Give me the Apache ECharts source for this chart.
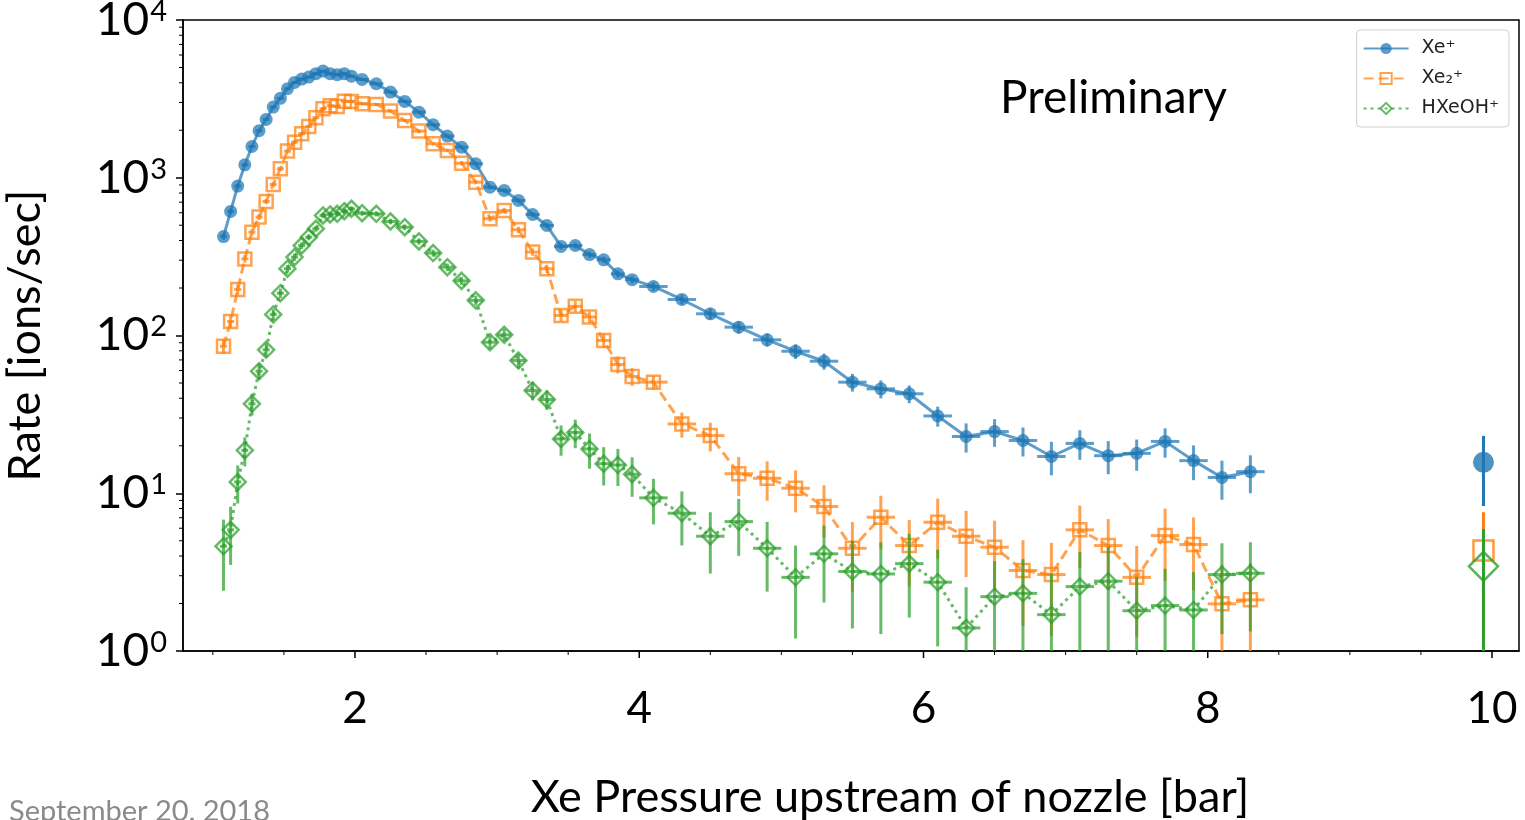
<!DOCTYPE html>
<html>
<head>
<meta charset="utf-8">
<title>Xe ion rates vs pressure</title>
<script src="https://cdn.jsdelivr.net/npm/echarts@6/dist/echarts.min.js"></script>
<style>
html, body { margin: 0; padding: 0; background: #fff; }
#chart { width: 1525px; height: 820px; }
</style>
</head>
<body>
<div id="chart"></div>
<script>
// pressure bins (bar) and half bin widths (horizontal error)
var pressure = [1.075, 1.125, 1.175, 1.225, 1.275, 1.325, 1.375, 1.425, 1.475, 1.525,
  1.575, 1.625, 1.675, 1.725, 1.775, 1.825, 1.875, 1.925, 1.975,
  2.05, 2.15, 2.25, 2.35, 2.45, 2.55, 2.65, 2.75, 2.85, 2.95,
  3.05, 3.15, 3.25, 3.35, 3.45, 3.55, 3.65, 3.75, 3.85, 3.95,
  4.1, 4.3, 4.5, 4.7, 4.9, 5.1, 5.3, 5.5, 5.7, 5.9, 6.1,
  6.3, 6.5, 6.7, 6.9, 7.1, 7.3, 7.5, 7.7, 7.9, 8.1, 8.3];
var halfBin = [0.025, 0.025, 0.025, 0.025, 0.025, 0.025, 0.025, 0.025, 0.025, 0.025,
  0.025, 0.025, 0.025, 0.025, 0.025, 0.025, 0.025, 0.025, 0.025,
  0.05, 0.05, 0.05, 0.05, 0.05, 0.05, 0.05, 0.05, 0.05, 0.05,
  0.05, 0.05, 0.05, 0.05, 0.05, 0.05, 0.05, 0.05, 0.05, 0.05,
  0.1, 0.1, 0.1, 0.1, 0.1, 0.1, 0.1, 0.1, 0.1, 0.1, 0.1,
  0.1, 0.1, 0.1, 0.1, 0.1, 0.1, 0.1, 0.1, 0.1, 0.1, 0.1];

// Xe+
var rateXe = [424, 612, 885, 1208, 1578, 1986, 2344, 2805, 3186, 3667,
  4021, 4220, 4345, 4566, 4744, 4566, 4498, 4566, 4406,
  4201, 3945, 3490, 3047, 2606, 2168, 1836, 1563, 1227, 872,
  831, 718, 585, 498, 367, 372, 326, 302, 246, 226,
  204.5, 169.2, 137.3, 112.9, 93.9, 79.5, 68.7, 50.6, 45.9, 42.7, 30.9,
  22.9, 24.6, 21.6, 17.1, 20.7, 17.3, 17.9, 21.3, 16.1, 12.6, 13.7];
var errXe = [20, 25, 30, 35, 40, 45, 50, 55, 60, 60,
  65, 65, 65, 70, 70, 70, 70, 70, 70,
  65, 60, 55, 50, 45, 40, 38, 35, 30, 25,
  25, 22, 20, 18, 16, 16, 15, 14, 13, 12,
  13, 12, 11, 10, 9, 8.5, 8, 6.5, 6, 5.5, 4.5,
  4.8, 4.9, 4.5, 4.1, 4.4, 4.1, 4.0, 4.5, 4.0, 3.5, 3.7];

// Xe2+
var rateXe2 = [85.5, 122.7, 195.7, 306, 452, 563, 707, 907, 1140, 1475,
  1682, 1901, 2115, 2402, 2739, 2861, 2832, 3059, 3047,
  2946, 2916, 2645, 2308, 1975, 1643, 1490, 1237, 938, 550,
  620, 468, 338, 265, 134, 153, 131, 93, 65.5, 55,
  50.6, 27.5, 23.2, 13.3, 12.45, 10.76, 8.24, 4.48, 7.05, 4.66, 6.55,
  5.34, 4.55, 3.24, 3.05, 5.86, 4.66, 2.93, 5.39, 4.73, 1.99, 2.11];
var errXe2 = [9, 11, 14, 17, 21, 24, 27, 30, 34, 38,
  41, 44, 46, 49, 52, 53, 53, 55, 55,
  54, 54, 51, 48, 44, 40, 38, 35, 30, 23,
  25, 22, 18, 16, 11, 12, 11, 9.5, 8, 7,
  5, 5, 4.8, 3.7, 3.5, 3.2, 3.0, 2.1, 2.6, 2.1, 2.7,
  2.4, 2.15, 1.8, 1.8, 2.5, 2.2, 1.7, 2.6, 2.3, 1.5, 1.5];

// HXeOH+
var rateHXeOH = [4.61, 5.86, 11.8, 18.7, 36.9, 59.4, 81.2, 136, 185.5, 265,
  314, 372, 420, 475, 577, 585, 591, 614, 636,
  596, 591, 528, 486, 395, 333, 271, 222, 167, 90.7,
  101, 69.4, 44.8, 39.3, 22.1, 24.3, 19.1, 15.4, 15.1, 13.2,
  9.35, 7.47, 5.34, 6.61, 4.48, 2.93, 4.13, 3.19, 3.08, 3.58, 2.73,
  1.40, 2.21, 2.32, 1.70, 2.56, 2.77, 1.80, 1.94, 1.82, 3.05, 3.11];
var errHXeOH = [2.2, 2.35, 3.2, 3.9, 5.8, 7, 8, 11, 13, 15,
  17, 18, 19, 20, 22, 22, 22, 23, 23,
  22, 22, 21, 20, 18, 17, 15, 13, 12, 8.5,
  9, 7.5, 6, 5.5, 4.8, 5, 4.8, 4.2, 4.0, 3.7,
  3.0, 2.8, 2.24, 2.6, 2.1, 1.73, 2.1, 1.8, 1.8, 1.95, 1.66,
  1.14, 1.5, 1.5, 1.38, 1.67, 1.8, 1.13, 1.38, 1.34, 1.77, 1.78];

// single reference point near 10 bar
var refPressure = [9.94];
var refXe = [15.7], refXeErr = [7.4];
var refXe2 = [4.33], refXe2Err = [3.25];
var refHXeOH = [3.44], refHXeOHErr = [2.5];

// axis ticks
var xMajorTicks = [2, 4, 6, 8, 10];
var xMinorTicks = [1, 1.5, 2.5, 3, 3.5, 4.5, 5, 5.5, 6.5, 7, 7.5, 8.5, 9, 9.5];
var yTickValues = [1, 10, 100, 1000, 10000];
var yTickExps = ['0', '1', '2', '3', '4'];
var yMinorTicks = [2, 3, 4, 5, 6, 7, 8, 9, 20, 30, 40, 50, 60, 70, 80, 90,
  200, 300, 400, 500, 600, 700, 800, 900, 2000, 3000, 4000, 5000, 6000, 7000, 8000, 9000];

var blue = 'rgba(31,119,180,0.72)';
var orange = 'rgba(255,127,14,0.72)';
var green = 'rgba(44,160,44,0.72)';

function pairs(xs, ys) {
  return xs.map(function (x, i) { return [x, ys[i]]; });
}
function errRows(xs, ys, es, hw) {
  return xs.map(function (x, i) {
    return [x, ys[i], ys[i] - es[i], ys[i] + es[i], hw ? hw[i] : 0];
  });
}

function errorBars(color) {
  return function (params, api) {
    var cs = params.coordSys;
    var bottom = cs.y + cs.height;
    var x = api.value(0), y = api.value(1), lo = api.value(2), hi = api.value(3), hw = api.value(4);
    var c = api.coord([x, y]);
    var top = api.coord([x, hi])[1];
    var low = lo > 0 ? Math.min(api.coord([x, lo])[1], bottom) : bottom;
    var kids = [{
      type: 'line',
      shape: { x1: c[0], y1: top, x2: c[0], y2: low },
      style: { stroke: color, lineWidth: 3 }
    }];
    if (hw > 0) {
      var l = api.coord([x - hw, y])[0], r = api.coord([x + hw, y])[0];
      kids.push({
        type: 'line',
        shape: { x1: l, y1: c[1], x2: r, y2: c[1] },
        style: { stroke: color, lineWidth: 3 }
      });
    }
    return { type: 'group', children: kids };
  };
}

function tickSeries(values, axis, len, width) {
  return {
    type: 'custom',
    silent: true,
    clip: false,
    z: 20,
    data: values.map(function (v) { return axis === 'x' ? [v, 1] : [1, v]; }),
    renderItem: function (params, api) {
      var cs = params.coordSys;
      var p = api.coord([api.value(0), api.value(1)]);
      if (axis === 'x') {
        var b = cs.y + cs.height;
        return { type: 'line', shape: { x1: p[0], y1: b, x2: p[0], y2: b + len }, style: { stroke: '#000', lineWidth: width } };
      }
      return { type: 'line', shape: { x1: cs.x - len, y1: p[1], x2: cs.x, y2: p[1] }, style: { stroke: '#000', lineWidth: width } };
    }
  };
}

var chart = echarts.init(document.getElementById('chart'));

var option = {
  animation: false,
  backgroundColor: '#fff',
  grid: {
    left: 183, right: 6, top: 20, bottom: 169,
    containLabel: false,
    outerBoundsMode: 'none',
    show: true, borderColor: '#000', borderWidth: 1.5, backgroundColor: 'transparent'
  },
  legend: {
    orient: 'vertical',
    right: 16,
    top: 30,
    itemWidth: 45,
    itemHeight: 14,
    itemGap: 11,
    padding: [9, 10, 9, 6],
    borderColor: '#cfcfcf',
    borderWidth: 1,
    borderRadius: 4,
    backgroundColor: '#fff',
    textStyle: { fontFamily: 'DejaVu Sans', fontSize: 19, color: '#222', padding: [0, 0, 0, 8] },
    data: ['Xe⁺', 'Xe₂⁺', 'HXeOH⁺']
  },
  xAxis: {
    type: 'value',
    min: 0.79,
    max: 10.19,
    splitNumber: 5,
    name: 'Xe Pressure upstream of nozzle [bar]',
    nameLocation: 'middle',
    nameGap: 124,
    nameTextStyle: { fontFamily: 'Lato', fontSize: 45, color: '#000', padding: [0, 0, 0, 78] },
    axisLine: { show: true, lineStyle: { color: '#000', width: 1.5 } },
    axisTick: { show: false },
    splitLine: { show: false },
    axisLabel: {
      showMinLabel: false,
      showMaxLabel: false,
      margin: 36,
      fontFamily: 'Lato',
      fontSize: 44,
      color: '#000',
      formatter: function (v) { return xMajorTicks.indexOf(v) >= 0 ? String(v) : ''; }
    }
  },
  yAxis: {
    type: 'log',
    logBase: 10,
    min: 1,
    max: 10000,
    name: 'Rate [ions/sec]',
    nameLocation: 'middle',
    nameGap: 135,
    nameTextStyle: { fontFamily: 'Lato', fontSize: 45, color: '#000' },
    axisLine: { show: true, lineStyle: { color: '#000', width: 1.5 } },
    axisTick: { show: true, length: 7, lineStyle: { color: '#000', width: 1.5 } },
    splitLine: { show: false },
    axisLabel: {
      margin: 16,
      color: '#000',
      formatter: function (v) {
        var i = yTickValues.indexOf(Math.round(v));
        return '{b|10}{s|' + (i >= 0 ? yTickExps[i] : '') + '}';
      },
      rich: {
        b: { fontFamily: 'Lato', fontSize: 46, lineHeight: 46, color: '#000', verticalAlign: 'bottom' },
        s: { fontFamily: 'Lato', fontSize: 29, lineHeight: 46, color: '#000', verticalAlign: 'top', padding: [0, 0, 14, 1] }
      }
    }
  },
  graphic: [
    { type: 'text', left: 1000, top: 75, style: { text: 'Preliminary', fontFamily: 'Lato', fontSize: 46, fill: '#000' } },
    { type: 'text', left: 9, top: 797, style: { text: 'September 20, 2018', fontFamily: 'Lato', fontSize: 29, fill: '#8a8a8a' } }
  ],
  series: [
    {
      name: 'Xe⁺', type: 'line', z: 2,
      data: pairs(pressure, rateXe),
      symbol: 'circle', symbolSize: 13,
      lineStyle: { color: blue, width: 3 },
      itemStyle: { color: blue, borderWidth: 0 }
    },
    { name: 'errXe', type: 'custom', z: 3, silent: true, clip: false, data: errRows(pressure, rateXe, errXe, halfBin), renderItem: errorBars(blue) },
    {
      name: 'Xe₂⁺', type: 'line', z: 4,
      data: pairs(pressure, rateXe2),
      symbol: 'rect', symbolSize: 13,
      lineStyle: { color: orange, width: 3, type: [10, 5] },
      itemStyle: { color: 'rgba(255,255,255,0)', borderColor: orange, borderWidth: 2.5 }
    },
    { name: 'errXe2', type: 'custom', z: 5, silent: true, clip: false, data: errRows(pressure, rateXe2, errXe2, halfBin), renderItem: errorBars(orange) },
    {
      name: 'HXeOH⁺', type: 'line', z: 6,
      data: pairs(pressure, rateHXeOH),
      symbol: 'diamond', symbolSize: 16,
      lineStyle: { color: green, width: 3, type: [3, 4] },
      itemStyle: { color: 'rgba(255,255,255,0)', borderColor: green, borderWidth: 2.5 }
    },
    { name: 'errHXeOH', type: 'custom', z: 7, silent: true, clip: false, data: errRows(pressure, rateHXeOH, errHXeOH, halfBin), renderItem: errorBars(green) },

    { name: 'refXe', type: 'scatter', z: 2, data: pairs(refPressure, refXe), symbol: 'circle', symbolSize: 21, itemStyle: { color: 'rgba(31,119,180,1)' } },
    { name: 'refXeErr', type: 'custom', z: 3, silent: true, clip: false, data: errRows(refPressure, refXe, refXeErr), renderItem: errorBars('rgba(31,119,180,1)') },
    { name: 'refXe2', type: 'scatter', z: 4, data: pairs(refPressure, refXe2), symbol: 'rect', symbolSize: 20, itemStyle: { color: 'rgba(255,255,255,0)', borderColor: 'rgba(255,127,14,1)', borderWidth: 2.5 } },
    { name: 'refXe2Err', type: 'custom', z: 5, silent: true, clip: false, data: errRows(refPressure, refXe2, refXe2Err), renderItem: errorBars('rgba(255,127,14,1)') },
    { name: 'refHXeOH', type: 'scatter', z: 6, data: pairs(refPressure, refHXeOH), symbol: 'diamond', symbolSize: 29, itemStyle: { color: 'rgba(255,255,255,0)', borderColor: 'rgba(44,160,44,1)', borderWidth: 2.5 } },
    { name: 'refHXeOHErr', type: 'custom', z: 7, silent: true, clip: false, data: errRows(refPressure, refHXeOH, refHXeOHErr), renderItem: errorBars('rgba(44,160,44,1)') },

    tickSeries(xMajorTicks, 'x', 7, 1.5),
    tickSeries(xMinorTicks, 'x', 4, 1),
    tickSeries(yMinorTicks, 'y', 4, 1)
  ]
};

chart.setOption(option);
</script>
</body>
</html>
